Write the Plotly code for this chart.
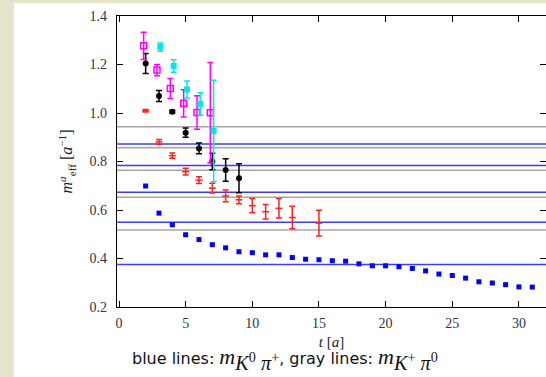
import plotly.graph_objects as go

# ---- data ----
t_blue = list(range(2, 32))
m_blue = [0.699, 0.587, 0.539, 0.498, 0.478, 0.457, 0.444, 0.428, 0.424, 0.415,
          0.415, 0.404, 0.397, 0.395, 0.391, 0.389, 0.378, 0.370, 0.370, 0.366,
          0.359, 0.349, 0.336, 0.330, 0.319, 0.304, 0.299, 0.292, 0.283, 0.282]
e_blue = [0.003, 0.003, 0.003, 0.003, 0.003, 0.003, 0.003, 0.003, 0.003, 0.003,
          0.003, 0.003, 0.003, 0.003, 0.003, 0.004, 0.004, 0.004, 0.004, 0.004,
          0.004, 0.004, 0.004, 0.004, 0.004, 0.004, 0.004, 0.004, 0.004, 0.004]

t_black = [2, 3, 4, 5, 6, 7, 8, 9]
m_black = [1.204, 1.070, 1.005, 0.919, 0.854, 0.800, 0.765, 0.731]
e_black = [0.041, 0.023, 0.006, 0.019, 0.022, 0.034, 0.046, 0.060]

t_red = [2, 3, 4, 5, 6, 7, 8, 9, 10, 11, 12, 13, 15]
m_red = [1.009, 0.881, 0.824, 0.758, 0.723, 0.690, 0.658, 0.642, 0.618, 0.593, 0.607, 0.569, 0.546]
e_red = [0.005, 0.010, 0.011, 0.014, 0.014, 0.020, 0.024, 0.016, 0.029, 0.030, 0.040, 0.046, 0.053]

t_magenta = [2, 3, 4, 5, 6, 7]
m_magenta = [1.277, 1.177, 1.101, 1.040, 1.002, 1.001]
e_magenta = [0.056, 0.023, 0.041, 0.056, 0.069, 0.207]

t_cyan = [3, 4, 5, 6, 7]
m_cyan = [1.272, 1.194, 1.097, 1.037, 0.926]
e_cyan = [0.017, 0.026, 0.035, 0.046, 0.209]

blue_lines = [0.872, 0.783, 0.673, 0.549, 0.375]
gray_lines = [0.943, 0.857, 0.764, 0.653, 0.518]

x_ticks = [0, 5, 10, 15, 20, 25, 30]
y_ticks = [0.2, 0.4, 0.6, 0.8, 1.0, 1.2, 1.4]
y_tick_text = ["0.2", "0.4", "0.6", "0.8", "1.0", "1.2", "1.4"]

# ---- figure ----
fig = go.Figure()

def err_trace(x, y, e, color, symbol, size, dx=0.0, lw=1.5, cap=3, mline=None):
    marker = dict(color=color, symbol=symbol, size=size)
    if mline is not None:
        marker["line"] = mline
    return go.Scatter(
        x=[v + dx for v in x], y=y, mode="markers",
        marker=marker,
        error_y=dict(type="data", array=e, visible=True, color=color,
                     thickness=lw, width=cap),
        showlegend=False, hoverinfo="skip")

fig.add_trace(err_trace(t_blue, m_blue, e_blue, "#0000ff", "square", 5, cap=2))
fig.add_trace(err_trace(t_red, m_red, e_red, "#ff2020", "line-ew", 5,
                        mline=dict(color="#ff2020", width=1.5)))
fig.add_trace(err_trace(t_black, m_black, e_black, "#000000", "circle", 6))
fig.add_trace(err_trace(t_magenta, m_magenta, e_magenta, "#ff00ff", "square-open", 6,
                        dx=-0.15, mline=dict(color="#ff00ff", width=1.5)))
fig.add_trace(err_trace(t_cyan, m_cyan, e_cyan, "#00e8e8", "square", 6, dx=0.1))

for v in gray_lines:
    fig.add_hline(y=v, line=dict(color="#a6a6a6", width=1.5), layer="below")
for v in blue_lines:
    fig.add_hline(y=v, line=dict(color="#3c3cff", width=1.5), layer="below")

# layout in pixels (page margin removed by post_script)
L, R, T, B = 117, 0, 16, 70
W, H = 546, 377
pw, ph = W - L - R, H - T - B
def px_x(p):
    return (p - L) / pw
def px_y(p):
    return (H - B - p) / ph

# beige strips of the page (outside the plot)
fig.add_shape(type="rect", xref="paper", yref="paper",
              x0=px_x(-2), x1=px_x(14), y0=px_y(H + 5), y1=px_y(-5),
              fillcolor="#e6e4cc", line=dict(width=0), layer="above")
fig.add_shape(type="rect", xref="paper", yref="paper",
              x0=px_x(-2), x1=px_x(W + 5), y0=px_y(3), y1=px_y(-5),
              fillcolor="#e6e4cc", line=dict(width=0), layer="above")

tickfont = dict(family="Liberation Serif", size=14, color="#333344")
titlefont = dict(family="Liberation Serif", size=15, color="#222222")

fig.update_xaxes(range=[-0.15, 32.03], tickvals=x_ticks,
                 ticks="inside", ticklen=6, tickwidth=1, tickcolor="black",
                 showline=True, linecolor="black", linewidth=1.2, mirror="allticks",
                 showgrid=False, zeroline=False, tickfont=tickfont,
                 ticklabelstandoff=3,
                 title=dict(text="<i>t</i> [<i>a</i>]", font=titlefont, standoff=6))
fig.update_yaxes(range=[0.2, 1.4], tickvals=y_ticks, ticktext=y_tick_text,
                 ticks="inside", ticklen=6, tickwidth=1, tickcolor="black",
                 showline=True, linecolor="black", linewidth=1.2, mirror="allticks",
                 showgrid=False, zeroline=False, tickfont=tickfont,
                 ticklabelstandoff=6,
                 title=dict(text="<i>m</i><sup><i>a</i></sup><sub>eff</sub> [<i>a</i><sup>−1</sup>]",
                            font=dict(family="Liberation Serif", size=16, color="#222222"),
                            standoff=12))

sans = '<span style="font-family:DejaVu Sans;font-size:16px">%s</span>'
big = '<span style="font-size:22px"><i>m</i></span>'
def sub(a, sa, b, sb):
    return '<sub><i>%s</i><sup>%s</sup>&nbsp;<i>%s</i><sup>%s</sup></sub>' % (a, sa, b, sb)
fig.add_annotation(
    xref="paper", yref="paper", x=px_x(285), y=px_y(359),
    text=(sans % "blue lines: " + big + sub("K", "0", "π", "+") +
          sans % ", gray lines: " + big + sub("K", "+", "π", "0")),
    showarrow=False, font=dict(family="Liberation Serif", size=29, color="#111111"),
    xanchor="center", yanchor="middle")

fig.update_layout(width=W, height=H, margin=dict(l=L, r=R, t=T, b=B),
                  paper_bgcolor="white", plot_bgcolor="white")

fig.write_html("out.html", config={"displayModeBar": False},
               post_script="document.body.style.margin='0';document.body.style.overflow='hidden';")
